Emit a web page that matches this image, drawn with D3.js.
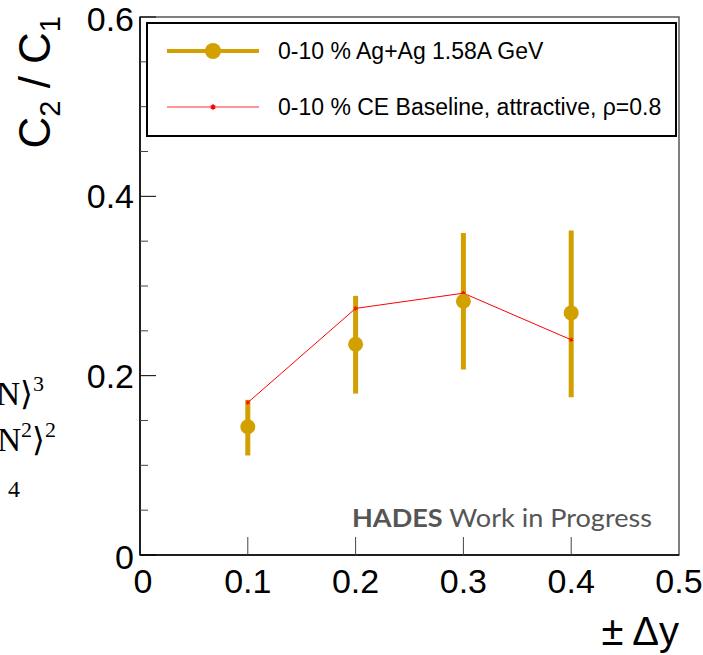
<!DOCTYPE html>
<html>
<head>
<meta charset="utf-8">
<script src="https://cdn.jsdelivr.net/npm/d3@7"></script>
<style>
  body { margin: 0; background: #fff; }
  svg { display: block; }
</style>
</head>
<body>
<svg width="703" height="655"></svg>
<script>
// data
const dy = [0.1, 0.2, 0.3, 0.4];
const ratio = [0.143, 0.235, 0.283, 0.270];
const errLo = [0.111, 0.180, 0.207, 0.176];
const errHi = [0.173, 0.289, 0.359, 0.362];
const ceBase = [0.170, 0.275, 0.292, 0.240];
const xTicks = [0, 0.1, 0.2, 0.3, 0.4, 0.5];
const yTicks = [0, 0.2, 0.4, 0.6];
const yMinor = d3.range(0.05, 0.6, 0.05).filter(v => Math.abs(v / 0.2 - Math.round(v / 0.2)) > 0.01);
const legendLabels = ['0-10 % Ag+Ag 1.58A GeV', '0-10 % CE Baseline, attractive, ρ=0.8'];

const gold = '#d2a000';
const svg = d3.select('svg');

const x = d3.scaleLinear().domain([0, 0.5]).range([140, 679]);
const y = d3.scaleLinear().domain([0, 0.6]).range([555, 17]);

// cut-off formula pieces on the far left
const sans = 'Liberation Sans, Arial, Helvetica, sans-serif';
const serif = 'Liberation Serif, Times New Roman, serif';
const frag = svg.append('g').attr('font-family', serif).attr('fill', '#000');
const f1 = frag.append('text').attr('x', 44).attr('y', 405).attr('font-size', 33).attr('text-anchor', 'end');
f1.append('tspan').text('⟨N⟩');
f1.append('tspan').attr('dy', -14).attr('font-size', 22).text('3');
const f2 = frag.append('text').attr('x', 56).attr('y', 451).attr('font-size', 33).attr('text-anchor', 'end');
f2.append('tspan').text('⟨N');
f2.append('tspan').attr('dy', -14).attr('font-size', 22).text('2');
f2.append('tspan').attr('dy', 14).text('⟩');
f2.append('tspan').attr('dy', -14).attr('font-size', 22).text('2');
frag.append('text').attr('x', 8).attr('y', 497).attr('font-size', 24).text('4');

// frame
svg.append('rect')
  .attr('x', x(0)).attr('y', y(0.6))
  .attr('width', x(0.5) - x(0)).attr('height', y(0) - y(0.6))
  .attr('fill', 'none').attr('stroke', '#555').attr('stroke-width', 1.5);

// left axis with ROOT style inside ticks
const yAxis = svg.append('g');
yAxis.append('line')
  .attr('x1', x(0)).attr('x2', x(0)).attr('y1', y(0)).attr('y2', y(0.6))
  .attr('stroke', '#000').attr('stroke-width', 1.5);
yAxis.selectAll('.maj').data(yTicks).join('line')
  .attr('x1', x(0)).attr('x2', x(0) + 16).attr('y1', d => y(d)).attr('y2', d => y(d))
  .attr('stroke', '#000').attr('stroke-width', 1);
yAxis.selectAll('.min').data(yMinor).join('line')
  .attr('x1', x(0)).attr('x2', x(0) + 8).attr('y1', d => y(d)).attr('y2', d => y(d))
  .attr('stroke', '#444').attr('stroke-width', 1);
yAxis.selectAll('text').data(yTicks).join('text')
  .attr('x', 134).attr('y', d => y(d) + (d === 0 ? 2 : 0) + (d === 0.6 ? 2 : 0))
  .attr('dy', '0.35em')
  .attr('text-anchor', 'end')
  .attr('font-family', sans).attr('font-size', 34)
  .text(d => d3.format('')(d));

// bottom axis
const xAxis = svg.append('g');
xAxis.append('line')
  .attr('x1', x(0)).attr('x2', x(0.5)).attr('y1', y(0)).attr('y2', y(0))
  .attr('stroke', '#000').attr('stroke-width', 1.5);
xAxis.selectAll('line.t').data(xTicks.slice(1, -1)).join('line')
  .attr('class', 't')
  .attr('x1', d => x(d)).attr('x2', d => x(d)).attr('y1', y(0)).attr('y2', y(0) - 18)
  .attr('stroke', '#444').attr('stroke-width', 1);
xAxis.selectAll('text').data(xTicks).join('text')
  .attr('x', d => x(d) + (d === 0 ? 3 : 0)).attr('y', 593)
  .attr('text-anchor', 'middle')
  .attr('font-family', sans).attr('font-size', 34)
  .text(d => d3.format('')(d));

// axis titles
svg.append('text')
  .attr('x', 679).attr('y', 645)
  .attr('text-anchor', 'end')
  .attr('font-family', sans).attr('font-size', 40)
  .text('± Δy');

const yt = svg.append('text')
  .attr('transform', 'translate(50,16) rotate(-90)')
  .attr('text-anchor', 'end')
  .attr('font-family', sans).attr('font-size', 44);
yt.append('tspan').text('C');
yt.append('tspan').attr('dy', 10).attr('font-size', 29).text('2');
yt.append('tspan').attr('dy', -10).text(' / C');
yt.append('tspan').attr('dy', 10).attr('font-size', 29).text('1');

// data: error bars + markers
const pts = dy.map((d, i) => ({ x: d, v: ratio[i], lo: errLo[i], hi: errHi[i], ce: ceBase[i] }));

svg.append('g').selectAll('line').data(pts).join('line')
  .attr('x1', d => x(d.x)).attr('x2', d => x(d.x))
  .attr('y1', d => y(d.lo)).attr('y2', d => y(d.hi))
  .attr('stroke', gold).attr('stroke-width', 5);

// CE baseline line
const line = d3.line().x(d => x(d.x)).y(d => y(d.ce));
svg.append('path')
  .datum(pts)
  .attr('fill', 'none')
  .attr('stroke', '#ff0000')
  .attr('stroke-width', 1)
  .attr('d', line);
svg.append('g').selectAll('path').data(pts).join('path')
  .attr('transform', d => `translate(${x(d.x)},${y(d.ce)})`)
  .attr('d', d3.symbol(d3.symbolAsterisk, 14))
  .attr('fill', 'none').attr('stroke', '#ff0000').attr('stroke-width', 1);

svg.append('g').selectAll('circle').data(pts).join('circle')
  .attr('cx', d => x(d.x)).attr('cy', d => y(d.v))
  .attr('r', 7.5).attr('fill', gold);

// HADES label
const hades = svg.append('text')
  .attr('x', 352).attr('y', 527)
  .attr('font-family', 'Lato, Open Sans, sans-serif').attr('font-size', 25)
  .attr('fill', '#555')
  .attr('textLength', 300).attr('lengthAdjust', 'spacingAndGlyphs');
hades.append('tspan').attr('font-weight', 'bold').text('HADES');
hades.append('tspan').text(' Work in Progress');

// legend
const lg = svg.append('g');
lg.append('rect')
  .attr('x', 147).attr('y', 23).attr('width', 529).attr('height', 113)
  .attr('fill', '#fff').attr('stroke', '#000').attr('stroke-width', 2);
const rows = lg.selectAll('g.row').data(legendLabels).join('g')
  .attr('class', 'row')
  .attr('transform', (d, i) => `translate(0,${i === 0 ? 51 : 107})`);
rows.append('line')
  .attr('x1', 167).attr('x2', 259)
  .attr('stroke', (d, i) => i === 0 ? gold : '#ff7070')
  .attr('stroke-width', (d, i) => i === 0 ? 4 : 1.5);
rows.filter((d, i) => i === 0).append('circle')
  .attr('cx', 213).attr('r', 8).attr('fill', gold);
rows.filter((d, i) => i === 1).append('path')
  .attr('transform', 'translate(213,0)')
  .attr('d', d3.symbol(d3.symbolAsterisk, 20))
  .attr('fill', 'none').attr('stroke', '#ff0000').attr('stroke-width', 1.5);
rows.append('text')
  .attr('x', 278).attr('y', 8)
  .attr('font-family', sans).attr('font-size', 23)
  .text(d => d);
</script>
</body>
</html>
